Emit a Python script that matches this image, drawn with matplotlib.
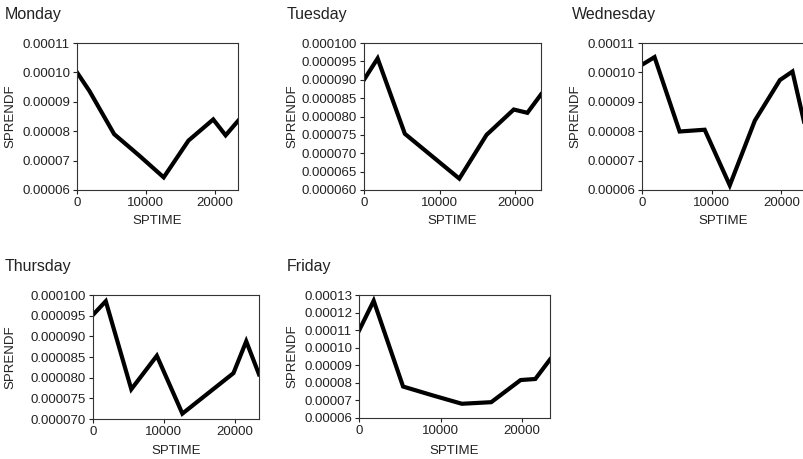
import matplotlib
matplotlib.use("Agg")
import matplotlib.pyplot as plt
from matplotlib.ticker import MultipleLocator, FormatStrFormatter

plt.rcParams['font.family'] = ['Liberation Sans', 'DejaVu Sans']

# time of day in seconds since the open
sptime = [0, 1800, 5400, 9000, 12600, 16200, 19800, 21600, 23400]

days = ['Monday', 'Tuesday', 'Wednesday', 'Thursday', 'Friday']

monday = [0.0001000, 0.0000937, 0.0000790, 0.0000718, 0.0000643, 0.0000768, 0.0000840, 0.0000786, 0.0000835]
tuesday = [0.0000900, 0.0000958, 0.0000753, 0.0000692, 0.0000631, 0.0000750, 0.0000819, 0.0000810, 0.0000860]
wednesday = [0.0001026, 0.0001052, 0.0000799, 0.0000805, 0.0000616, 0.0000836, 0.0000974, 0.0001003, 0.0000818]
thursday = [0.0000952, 0.0000985, 0.0000772, 0.0000853, 0.0000713, 0.0000762, 0.0000811, 0.0000888, 0.0000808]
friday = [0.0001097, 0.0001267, 0.0000779, 0.0000729, 0.0000681, 0.0000690, 0.0000816, 0.0000822, 0.0000933]

series = [monday, tuesday, wednesday, thursday, friday]

# y limits / tick step / label format per panel
ylims = [(0.00006, 0.00011), (0.00006, 0.0001), (0.00006, 0.00011),
         (0.00007, 0.0001), (0.00006, 0.00013)]
ysteps = [0.00001, 0.000005, 0.00001, 0.000005, 0.00001]
yfmts = ['%.5f', '%.6f', '%.5f', '%.6f', '%.5f']

W, H = 804, 459
# axes boxes in pixels: left, right, top, bottom
boxes = [(77, 238, 43, 190), (364, 541, 43, 190), (642, 805, 43, 190),
         (93, 259, 295, 419), (359, 550, 295, 418)]
# title anchor, y-label x centre, x-label y centre (pixels)
title_pos = [(5, 14), (287, 14), (572, 14), (5, 267), (287, 267)]
ylab_x = [10, 292, 575, 10, 292]
xlab_y = [221, 221, 221, 451, 451]

fig = plt.figure(figsize=(W / 100, H / 100), dpi=100)

for i, day in enumerate(days):
    l, r, t, b = boxes[i]
    ax = fig.add_axes([l / W, 1 - b / H, (r - l) / W, (b - t) / H])
    ax.plot(sptime, series[i], color='black', linewidth=3, solid_joinstyle='miter')
    ax.set_xlim(0, 23400)
    ax.set_ylim(*ylims[i])
    ax.xaxis.set_major_locator(MultipleLocator(10000))
    ax.yaxis.set_major_locator(MultipleLocator(ysteps[i]))
    ax.yaxis.set_major_formatter(FormatStrFormatter(yfmts[i]))
    ax.tick_params(direction='out', length=3, width=0.8, labelsize=9.5,
                   colors='#222222', pad=2)
    for s in ax.spines.values():
        s.set_linewidth(0.8)
        s.set_color('#333333')
    ax.set_xlabel('SPTIME', fontsize=9.5, color='#222222', va='center')
    ax.set_ylabel('SPRENDF', fontsize=9.5, color='#222222', va='center')
    ax.xaxis.set_label_coords(0.5, (b - xlab_y[i]) / (b - t))
    ax.yaxis.set_label_coords((ylab_x[i] - l) / (r - l), 0.5)
    tx, ty = title_pos[i]
    fig.text(tx / W, 1 - ty / H, day, fontsize=11.5, ha='left', va='center',
             color='#222222')

fig.savefig('out.png', dpi=100)
